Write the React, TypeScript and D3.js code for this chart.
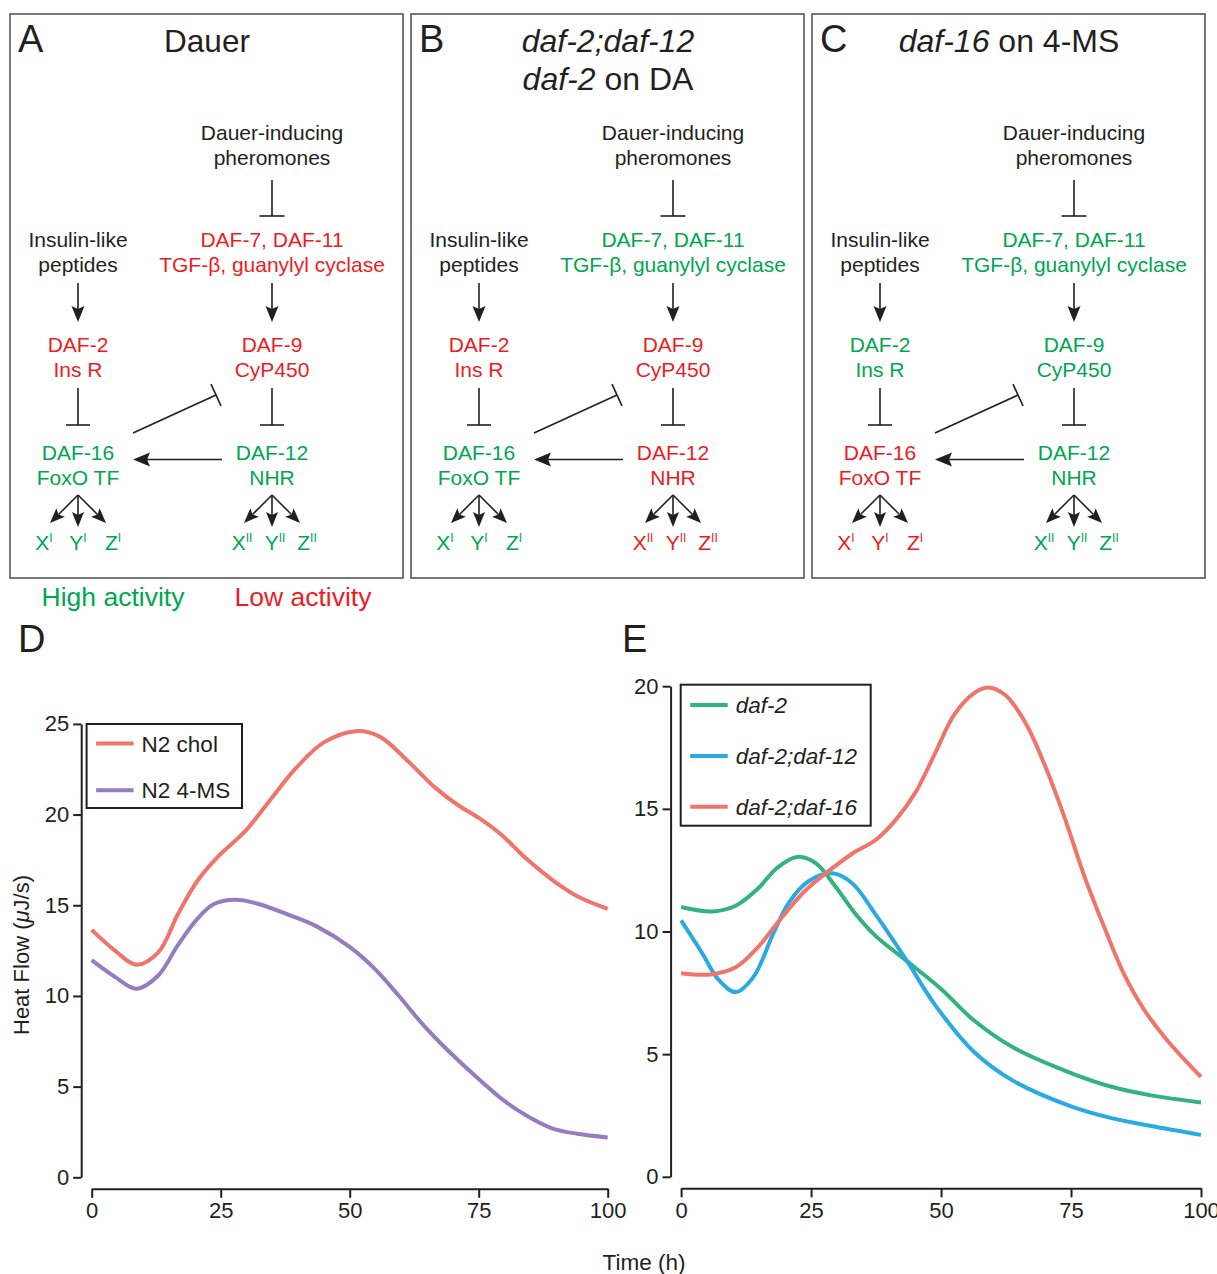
import React, { useEffect, useRef } from "react";
import * as d3 from "d3";

const RED = "#ED1C24";
const GREEN = "#00A651";
const INK = "#231F20";
const FONT = "'Liberation Sans', Arial, Helvetica, sans-serif";

// pathway panels A-C, activity of each node per panel
const panelLetters = ["A", "B", "C"];
const tgfActivity = ["lo", "hi", "hi"];
const daf2Activity = ["lo", "lo", "hi"];
const daf9Activity = ["lo", "lo", "hi"];
const daf16Activity = ["hi", "hi", "lo"];
const daf12Activity = ["hi", "lo", "hi"];

// panel D, heat flow (uJ/s) vs time (h)
const cholHours = [0, 4.5, 8.7, 12.9, 16.7, 20.5, 24.9, 29.7, 34.3, 39.7, 45, 51.2, 55.8, 61.1, 66.5, 71.1, 75.1, 79.5, 84.1, 89.5, 94.1, 100];
const cholFlow = [13.64, 12.5, 11.72, 12.4, 14.5, 16.35, 17.8, 19.07, 20.7, 22.6, 23.98, 24.6, 24.3, 23.0, 21.5, 20.5, 19.8, 18.86, 17.6, 16.35, 15.5, 14.8];
const msHours = [0, 4.5, 8.7, 12.9, 16.7, 20.5, 23.6, 27.8, 32, 38.2, 43.5, 50, 55, 59.6, 64.2, 68.8, 75.1, 80.3, 84.9, 89.5, 94.1, 100];
const msFlow = [11.97, 11.05, 10.4, 11.13, 12.8, 14.26, 15.06, 15.3, 15.1, 14.47, 13.85, 12.7, 11.45, 9.98, 8.42, 7.06, 5.39, 4.14, 3.3, 2.67, 2.4, 2.2];

// panel E
const daf2Hours = [0, 6, 10.5, 14.7, 18.5, 22.3, 26, 29.8, 33.6, 37.4, 43.5, 50, 56.3, 63.9, 75, 82.8, 90.4, 100];
const daf2Flow = [11.0, 10.82, 11.05, 11.73, 12.6, 13.04, 12.77, 11.8, 10.7, 9.82, 8.78, 7.66, 6.38, 5.27, 4.23, 3.67, 3.32, 3.03];
const daf12Hours = [0, 4.1, 7.1, 10.5, 13.9, 17.7, 20.7, 24.5, 29.1, 32.9, 37.4, 43.5, 48.8, 56.3, 63.9, 75, 82.8, 90.4, 100];
const daf12Flow = [10.45, 9.1, 8.06, 7.53, 8.14, 9.9, 11.17, 12.05, 12.37, 11.97, 10.7, 8.78, 7.02, 5.1, 3.91, 2.87, 2.39, 2.07, 1.71];
const daf16Hours = [0, 5.6, 10.5, 14.7, 19.2, 23.8, 28.3, 32.9, 37.4, 41.2, 45, 48.8, 52.5, 56.3, 59, 62.4, 66.2, 70, 73.7, 77.5, 81.3, 85.1, 88.9, 93.4, 100];
const daf16Flow = [8.3, 8.25, 8.54, 9.34, 10.53, 11.65, 12.45, 13.17, 13.73, 14.53, 15.64, 17.24, 18.83, 19.71, 19.95, 19.63, 18.52, 16.76, 14.68, 12.29, 10.22, 8.3, 6.86, 5.59, 4.07];

const hourTicks = [0, 25, 50, 75, 100];
const flowTicksD = [0, 5, 10, 15, 20, 25];
const flowTicksE = [0, 5, 10, 15, 20];

const colorOf = (a: string) => (a === "hi" ? GREEN : RED);

function Arrow({ x1, y1, x2, y2, head = 16, half = 6.5 }: any) {
  const L = Math.hypot(x2 - x1, y2 - y1);
  const ux = (x2 - x1) / L;
  const uy = (y2 - y1) / L;
  const bx = x2 - ux * head;
  const by = y2 - uy * head;
  return (
    <g>
      <line x1={x1} y1={y1} x2={bx + ux * 3} y2={by + uy * 3} stroke={INK} strokeWidth={1.6} />
      <polygon
        points={`${x2},${y2} ${bx - uy * half},${by + ux * half} ${bx + ux * 3},${by + uy * 3} ${bx + uy * half},${by - ux * half}`}
        fill={INK}
      />
    </g>
  );
}

function Inhibit({ x1, y1, x2, y2, half = 12.5 }: any) {
  const L = Math.hypot(x2 - x1, y2 - y1);
  const ux = (x2 - x1) / L;
  const uy = (y2 - y1) / L;
  return (
    <g stroke={INK} strokeWidth={1.6}>
      <line x1={x1} y1={y1} x2={x2} y2={y2} />
      <line x1={x2 - uy * half} y1={y2 + ux * half} x2={x2 + uy * half} y2={y2 - ux * half} />
    </g>
  );
}

function TwoLines({ x, y, a, b, fill }: any) {
  return (
    <text x={x} textAnchor="middle" fontSize={21} fill={fill}>
      <tspan x={x} y={y}>{a}</tspan>
      <tspan x={x} y={y + 25}>{b}</tspan>
    </text>
  );
}

function Targets({ xs, y, sup, fill }: any) {
  return (
    <g fill={fill} fontSize={21} textAnchor="middle">
      {["X", "Y", "Z"].map((c, k) => (
        <text key={c} x={xs[k]} y={y}>
          {c}
          <tspan fontSize={12} dy={-8}>{sup}</tspan>
        </text>
      ))}
    </g>
  );
}

function Pathway({ i, x0 }: { i: number; x0: number }) {
  const L = 68;
  const R = 262;
  const titles = [
    <text x={197} y={52} textAnchor="middle" fontSize={31.5} fill={INK}>Dauer</text>,
    <text textAnchor="middle" fontSize={32} fill={INK}>
      <tspan x={197} y={52} fontStyle="italic">daf-2;daf-12</tspan>
      <tspan x={197} y={90}><tspan fontStyle="italic">daf-2</tspan> on DA</tspan>
    </text>,
    <text x={197} y={52} textAnchor="middle" fontSize={32} fill={INK}>
      <tspan fontStyle="italic">daf-16</tspan> on 4-MS
    </text>,
  ];
  return (
    <g transform={`translate(${x0},0)`}>
      <rect x={0} y={14} width={393} height={564} fill="none" stroke="#4d4d4f" strokeWidth={1.5} />
      <text x={8} y={52} fontSize={38} fill={INK}>{panelLetters[i]}</text>
      {titles[i]}
      <TwoLines x={R} y={140} a="Dauer-inducing" b="pheromones" fill={INK} />
      <Inhibit x1={R} y1={180} x2={R} y2={216} />
      <TwoLines x={L} y={247} a="Insulin-like" b="peptides" fill={INK} />
      <TwoLines x={R} y={247} a="DAF-7, DAF-11" b="TGF-β, guanylyl cyclase" fill={colorOf(tgfActivity[i])} />
      <Arrow x1={L} y1={283} x2={L} y2={322} />
      <Arrow x1={R} y1={283} x2={R} y2={322} />
      <TwoLines x={L} y={352} a="DAF-2" b="Ins R" fill={colorOf(daf2Activity[i])} />
      <TwoLines x={R} y={352} a="DAF-9" b="CyP450" fill={colorOf(daf9Activity[i])} />
      <Inhibit x1={L} y1={388} x2={L} y2={425} half={12} />
      <Inhibit x1={R} y1={388} x2={R} y2={425} half={12} />
      <Inhibit x1={123} y1={433} x2={206} y2={395} half={12} />
      <TwoLines x={L} y={460} a="DAF-16" b="FoxO TF" fill={colorOf(daf16Activity[i])} />
      <TwoLines x={R} y={460} a="DAF-12" b="NHR" fill={colorOf(daf12Activity[i])} />
      <Arrow x1={212} y1={459.5} x2={123} y2={459.5} head={17} half={7} />
      {[L, R].map((cx) => (
        <g key={cx}>
          <Arrow x1={cx} y1={495} x2={cx - 28} y2={523} head={15} half={6} />
          <Arrow x1={cx} y1={495} x2={cx} y2={527} head={15} half={6} />
          <Arrow x1={cx} y1={495} x2={cx + 28} y2={523} head={15} half={6} />
        </g>
      ))}
      <Targets xs={[L - 34, L, L + 35]} y={550} sup="I" fill={colorOf(daf16Activity[i])} />
      <Targets xs={[R - 30, R + 3, R + 35]} y={550} sup="II" fill={colorOf(daf12Activity[i])} />
    </g>
  );
}

function Axes({ x, y, ticks }: any) {
  const xr = useRef<SVGGElement>(null);
  const yr = useRef<SVGGElement>(null);
  useEffect(() => {
    const xa = d3.select(xr.current!);
    xa.selectAll("*").remove();
    xa.call(d3.axisBottom(x).tickValues(hourTicks).tickSize(9).tickSizeOuter(0).tickPadding(5));
    const ya = d3.select(yr.current!);
    ya.selectAll("*").remove();
    ya.call(d3.axisLeft(y).tickValues(ticks).tickSize(8).tickSizeOuter(0).tickPadding(4));
    [xa, ya].forEach((g) => {
      g.selectAll("path, line").attr("stroke", INK).attr("stroke-width", 2);
      g.selectAll("text").attr("font-size", 22).attr("font-family", FONT).attr("fill", INK);
    });
  }, [x, y, ticks]);
  const [y0] = y.range();
  const [x0] = x.range();
  return (
    <g>
      <g ref={xr} transform={`translate(0,${y0 + 11.5})`} />
      <g ref={yr} transform={`translate(${x0 - 10.5},0)`} />
    </g>
  );
}

function Curve({ x, y, hours, flow, color }: any) {
  const line = d3
    .line<[number, number]>()
    .x((d) => x(d[0]))
    .y((d) => y(d[1]))
    .curve(d3.curveCatmullRom.alpha(0.5));
  return <path d={line(d3.zip(hours, flow) as [number, number][]) || ""} fill="none" stroke={color} strokeWidth={4} />;
}

function Legend({ x, y, w, h, items, italic }: any) {
  return (
    <g>
      <rect x={x} y={y} width={w} height={h} fill="white" stroke={INK} strokeWidth={2} />
      {items.map((it: any) => (
        <g key={it.label}>
          <line x1={x + 9.5} x2={x + 47} y1={it.cy} y2={it.cy} stroke={it.color} strokeWidth={4} />
          <text x={x + 55} y={it.cy + 8} fontSize={22.5} fill={INK} fontStyle={italic ? "italic" : "normal"}>
            {it.label}
          </text>
        </g>
      ))}
    </g>
  );
}

export default function App() {
  const xD = d3.scaleLinear().domain([0, 100]).range([91.7, 607.7]);
  const yD = d3.scaleLinear().domain([0, 25]).range([1177.3, 723.9]);
  const xE = d3.scaleLinear().domain([0, 100]).range([681.1, 1201]);
  const yE = d3.scaleLinear().domain([0, 20]).range([1176.8, 686.2]);

  return (
    <svg
      width={1217}
      height={1274}
      style={{ position: "absolute", left: 0, top: 0, background: "white" }}
      fontFamily={FONT}
    >
      {[0, 1, 2].map((i) => (
        <Pathway key={i} i={i} x0={10 + i * 401} />
      ))}
      <text x={113} y={606} textAnchor="middle" fontSize={26.5} fill={GREEN}>High activity</text>
      <text x={303} y={606} textAnchor="middle" fontSize={26.5} fill={RED}>Low activity</text>

      <text x={18} y={652} fontSize={38} fill={INK}>D</text>
      <text x={622} y={652} fontSize={38} fill={INK}>E</text>

      <Axes x={xD} y={yD} ticks={flowTicksD} />
      <Curve x={xD} y={yD} hours={cholHours} flow={cholFlow} color="#F0746B" />
      <Curve x={xD} y={yD} hours={msHours} flow={msFlow} color="#957CBE" />
      <Legend
        x={86.6}
        y={724}
        w={155.4}
        h={84}
        items={[
          { label: "N2 chol", color: "#F0746B", cy: 743.6 },
          { label: "N2 4-MS", color: "#957CBE", cy: 790.2 },
        ]}
      />

      <Axes x={xE} y={yE} ticks={flowTicksE} />
      <Curve x={xE} y={yE} hours={daf2Hours} flow={daf2Flow} color="#32B37E" />
      <Curve x={xE} y={yE} hours={daf12Hours} flow={daf12Flow} color="#2AAAE2" />
      <Curve x={xE} y={yE} hours={daf16Hours} flow={daf16Flow} color="#F0746B" />
      <Legend
        x={680.7}
        y={684.7}
        w={190}
        h={141}
        italic
        items={[
          { label: "daf-2", color: "#32B37E", cy: 705 },
          { label: "daf-2;daf-12", color: "#2AAAE2", cy: 755.9 },
          { label: "daf-2;daf-16", color: "#F0746B", cy: 806.8 },
        ]}
      />

      <text transform="translate(29,955) rotate(-90)" textAnchor="middle" fontSize={22} fill={INK}>
        Heat Flow (<tspan fontStyle="italic">μ</tspan>J/s)
      </text>
      <text x={644} y={1270} textAnchor="middle" fontSize={22.5} fill={INK}>Time (h)</text>
    </svg>
  );
}
